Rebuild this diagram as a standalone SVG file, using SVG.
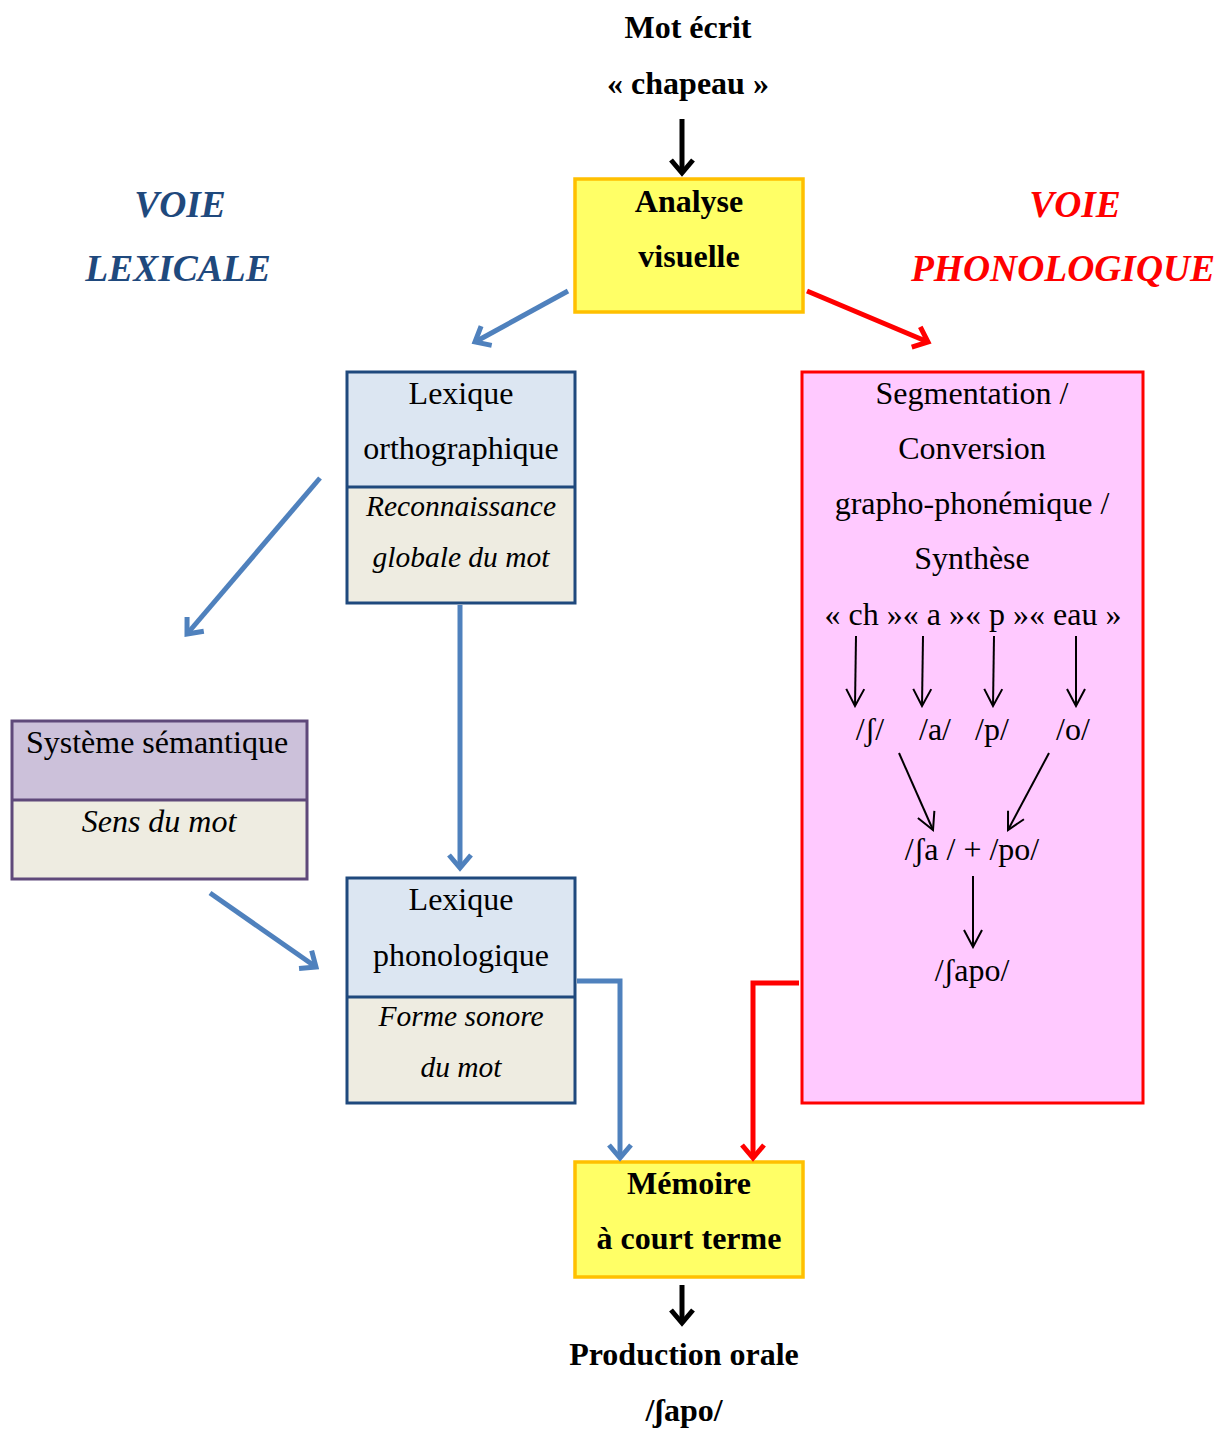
<svg xmlns="http://www.w3.org/2000/svg" width="1220" height="1429" viewBox="0 0 1220 1429">
<defs>
<style>
text{font-family:'Liberation Serif','DejaVu Serif',serif;text-anchor:middle;fill:#000}
.b{font-weight:bold;font-size:32px}
.r{font-size:32px}
.i{font-style:italic;font-size:29.5px}
.voie{font-weight:bold;font-style:italic;font-size:37.5px}
.blk{stroke:#000;stroke-width:5;fill:none}
.blu{stroke:#4F81BD;stroke-width:5;fill:none}
.red{stroke:#FF0000;stroke-width:5;fill:none}
.thin{stroke:#000;stroke-width:2;fill:none}
.yel{fill:#FFFF66;stroke:#FFC000;stroke-width:3.5}
</style>
<marker id="mBlk" markerUnits="userSpaceOnUse" viewBox="-20 -16 24 32" markerWidth="24" markerHeight="32" refX="0" refY="0" orient="auto"><path d="M-13,-11 L0,0 L-13,11" fill="none" stroke="#000" stroke-width="5"/></marker>
<marker id="mBlu" markerUnits="userSpaceOnUse" viewBox="-20 -16 24 32" markerWidth="24" markerHeight="32" refX="0" refY="0" orient="auto"><path d="M-13,-11 L0,0 L-13,11" fill="none" stroke="#4F81BD" stroke-width="5"/></marker>
<marker id="mRed" markerUnits="userSpaceOnUse" viewBox="-20 -16 24 32" markerWidth="24" markerHeight="32" refX="0" refY="0" orient="auto"><path d="M-13,-11 L0,0 L-13,11" fill="none" stroke="#FF0000" stroke-width="5"/></marker>
<marker id="mThin" markerUnits="userSpaceOnUse" viewBox="-20 -12 22 24" markerWidth="22" markerHeight="24" refX="0" refY="0" orient="auto"><path d="M-17,-9 L0,0 L-17,9" fill="none" stroke="#000" stroke-width="2"/></marker>
</defs>

<g id="titre">
<text class="b" x="688" y="38">Mot écrit</text>
<text class="b" x="688" y="94">« chapeau »</text>
</g>

<g id="voie-lexicale">
<text class="voie" x="180" y="217" style="fill:#1F497D">VOIE</text>
<text class="voie" x="178" y="281" style="fill:#1F497D">LEXICALE</text>
</g>
<g id="voie-phonologique">
<text class="voie" x="1075" y="217" style="fill:#FF0000">VOIE</text>
<text class="voie" x="1063" y="281" style="fill:#FF0000">PHONOLOGIQUE</text>
</g>

<g id="analyse">
<rect class="yel" x="575" y="179" width="228" height="133"/>
<text class="b" x="689" y="212">Analyse</text>
<text class="b" x="689" y="267">visuelle</text>
</g>

<g id="lexique-ortho">
<rect x="347" y="372" width="228" height="115" fill="#DCE6F2"/>
<rect x="347" y="487" width="228" height="116" fill="#EEECE1"/>
<rect x="347" y="372" width="228" height="231" fill="none" stroke="#1F497D" stroke-width="3"/>
<line x1="347" y1="487" x2="575" y2="487" stroke="#1F497D" stroke-width="3"/>
<text class="r" x="461" y="404">Lexique</text>
<text class="r" x="461" y="459">orthographique</text>
<text class="i" x="461" y="516">Reconnaissance</text>
<text class="i" x="461" y="567">globale du mot</text>
</g>

<g id="systeme-semantique">
<rect x="12" y="721" width="295" height="79" fill="#CCC1DA"/>
<rect x="12" y="800" width="295" height="79" fill="#EEECE1"/>
<rect x="12" y="721" width="295" height="158" fill="none" stroke="#5F497A" stroke-width="3"/>
<line x1="12" y1="800" x2="307" y2="800" stroke="#5F497A" stroke-width="3"/>
<text class="r" x="157" y="753">Système sémantique</text>
<text class="i" x="159" y="832" style="font-size:32px">Sens du mot</text>
</g>

<g id="lexique-phono">
<rect x="347" y="878" width="228" height="119" fill="#DCE6F2"/>
<rect x="347" y="997" width="228" height="106" fill="#EEECE1"/>
<rect x="347" y="878" width="228" height="225" fill="none" stroke="#1F497D" stroke-width="3"/>
<line x1="347" y1="997" x2="575" y2="997" stroke="#1F497D" stroke-width="3"/>
<text class="r" x="461" y="910">Lexique</text>
<text class="r" x="461" y="966">phonologique</text>
<text class="i" x="461" y="1026">Forme sonore</text>
<text class="i" x="461" y="1077">du mot</text>
</g>

<g id="segmentation">
<rect x="802" y="372" width="341" height="731" fill="#FFC9FF" stroke="#FF0000" stroke-width="3"/>
<text class="r" x="972" y="404">Segmentation /</text>
<text class="r" x="972" y="459">Conversion</text>
<text class="r" x="972" y="514">grapho-phonémique /</text>
<text class="r" x="972" y="569">Synthèse</text>
<text class="r" x="973" y="625">« ch »« a »« p »« eau »</text>
<text class="r" x="870" y="740">/ʃ/</text>
<text class="r" x="935" y="740">/a/</text>
<text class="r" x="992" y="740">/p/</text>
<text class="r" x="1073" y="740">/o/</text>
<text class="r" x="972" y="860">/ʃa / + /po/</text>
<text class="r" x="972" y="981">/ʃapo/</text>
</g>

<g id="memoire">
<rect class="yel" x="575" y="1162" width="228" height="115"/>
<text class="b" x="689" y="1194">Mémoire</text>
<text class="b" x="689" y="1249">à court terme</text>
</g>

<g id="production">
<text class="b" x="684" y="1365">Production orale</text>
<text class="b" x="684" y="1421">/ʃapo/</text>
</g>

<g id="connecteurs">
<line class="blk" x1="682" y1="119" x2="682" y2="173" marker-end="url(#mBlk)"/>
<line class="blu" x1="568" y1="291" x2="475" y2="342" marker-end="url(#mBlu)"/>
<line class="red" x1="807" y1="291" x2="928" y2="342" marker-end="url(#mRed)"/>
<line class="blu" x1="320" y1="478" x2="187" y2="634" marker-end="url(#mBlu)"/>
<line class="blu" x1="460" y1="605" x2="460" y2="868" marker-end="url(#mBlu)"/>
<line class="blu" x1="210" y1="893" x2="316" y2="967" marker-end="url(#mBlu)"/>
<polyline class="blu" points="577,981 620,981 620,1158" marker-end="url(#mBlu)"/>
<polyline class="red" points="799,983 753,983 753,1158" marker-end="url(#mRed)"/>
<line class="blk" x1="682" y1="1285" x2="682" y2="1323" marker-end="url(#mBlk)"/>
<line class="thin" x1="856" y1="636" x2="855" y2="706" marker-end="url(#mThin)"/>
<line class="thin" x1="923" y1="636" x2="922" y2="706" marker-end="url(#mThin)"/>
<line class="thin" x1="994" y1="636" x2="993" y2="706" marker-end="url(#mThin)"/>
<line class="thin" x1="1076" y1="636" x2="1076" y2="706" marker-end="url(#mThin)"/>
<line class="thin" x1="899" y1="753" x2="933" y2="830" marker-end="url(#mThin)"/>
<line class="thin" x1="1049" y1="753" x2="1008" y2="830" marker-end="url(#mThin)"/>
<line class="thin" x1="973" y1="876" x2="973" y2="947" marker-end="url(#mThin)"/>
</g>
</svg>
